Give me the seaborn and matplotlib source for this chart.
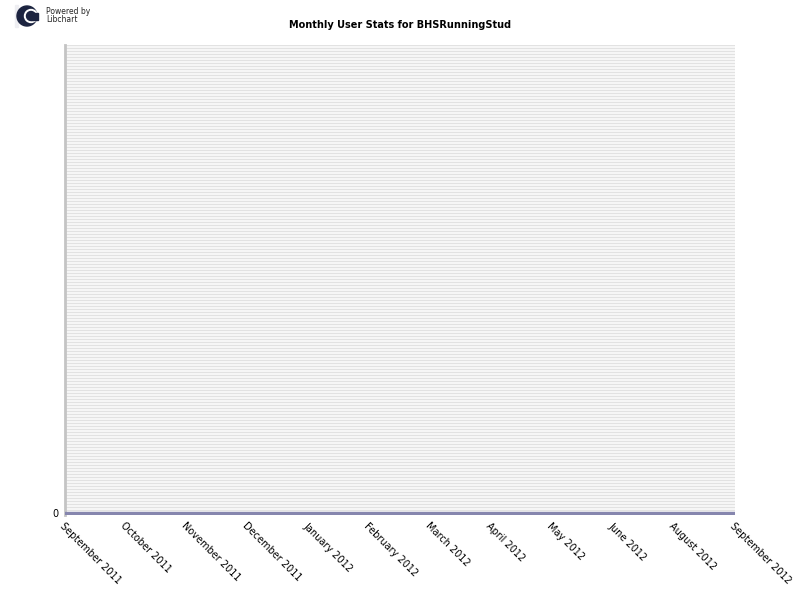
import numpy as np
import pandas as pd
import seaborn as sns
import matplotlib.pyplot as plt
from matplotlib.patches import Circle, Rectangle
from matplotlib.transforms import IdentityTransform

# data (every month is 0)
months = ['September 2011', 'October 2011', 'November 2011', 'December 2011',
          'January 2012', 'February 2012', 'March 2012', 'April 2012',
          'May 2012', 'June 2012', 'August 2012', 'September 2012']
users = [0, 0, 0, 0, 0, 0, 0, 0, 0, 0, 0, 0]

df = pd.DataFrame({'month': np.arange(len(months)), 'users': users})

sns.set_style('white')
plt.rcParams['font.family'] = ['DejaVu Sans']

fig = plt.figure(figsize=(8, 6), dpi=100)
ax = fig.add_axes([65 / 800, 1 - 515 / 600, 670 / 800, 470 / 600])

# striped plot background, one row per pixel
rows = 470
stripes = np.where(np.arange(rows) % 3 == 0, 0.89, 0.965)
img = np.repeat(stripes[:, None, None], 3, axis=2)
ax.imshow(img, aspect='auto', extent=[0, 1, 0, 1], transform=ax.transAxes,
          zorder=0, interpolation='nearest')

sns.lineplot(data=df, x='month', y='users', ax=ax, color='#8686ae',
             linewidth=2.4, zorder=3)

ax.set_xlim(0, len(months) - 1)
ax.set_ylim(-0.005, 1)
ax.set_xticks(np.arange(len(months)))
ax.set_xticklabels(months, rotation=-45, ha='left', va='top',
                   rotation_mode='anchor', fontsize=7, color='black')
ax.set_yticks([0])
ax.set_yticklabels(['0'], fontsize=7, color='black')
ax.tick_params(axis='y', length=3, color='#c8c8c8', pad=2)
ax.tick_params(axis='x', length=0, pad=4)
ax.set_xlabel('')
ax.set_ylabel('')

for side in ['top', 'right', 'bottom']:
    ax.spines[side].set_visible(False)
ax.spines['left'].set_color('#c4c4c4')
ax.spines['left'].set_linewidth(2)

fig.text(0.5, 1 - 25 / 600, 'Monthly User Stats for BHSRunningStud',
         ha='center', va='center', fontsize=7, fontweight='bold', color='black')

# libchart logo, drawn in pixel coordinates (origin bottom left)
px = IdentityTransform()
navy = '#1c2440'
fig.patches.append(Rectangle((15, 600 - 27), 3, 22, transform=px, color='#eeeef2', zorder=4))
fig.patches.append(Circle((27, 600 - 16), 10, transform=px, color=navy, zorder=5))
fig.patches.append(Circle((31, 600 - 16), 6.5, transform=px, color='white', zorder=6))
fig.patches.append(Circle((31, 600 - 16), 4.5, transform=px, color=navy, zorder=7))
fig.patches.append(Rectangle((31, 600 - 19.5), 7, 7, transform=px, color=navy, zorder=7))
fig.text(46 / 800, 1 - 11 / 600, 'Powered by', fontsize=5.5, va='center')
fig.text(46 / 800, 1 - 20 / 600, 'Libchart', fontsize=5.5, va='center')

fig.savefig('out.png', dpi=100)
